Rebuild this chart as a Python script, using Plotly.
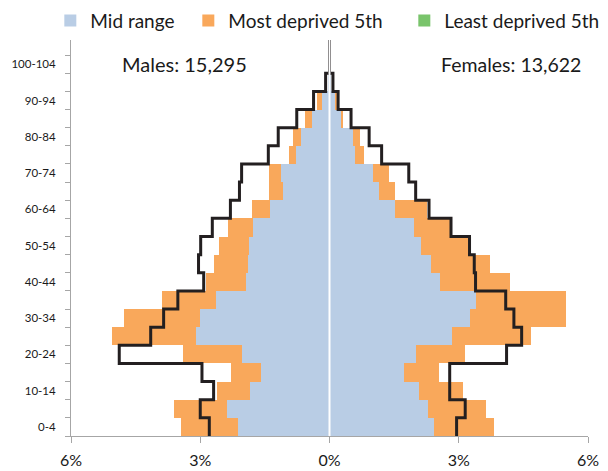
import plotly.graph_objects as go

age_groups = ['0-4', '5-9', '10-14', '15-19', '20-24', '25-29', '30-34', '35-39',
              '40-44', '45-49', '50-54', '55-59', '60-64', '65-69', '70-74', '75-79',
              '80-84', '85-89', '90-94', '95-99', '100-104', '105-109']

# percentages of population (males plotted to the left)
male_mid = [2.12, 2.39, 1.85, 1.58, 2.04, 3.09, 3.00, 2.64, 1.94, 1.90, 1.88, 1.77,
            1.38, 1.07, 1.12, 0.78, 0.66, 0.40, 0.17, 0.04, 0.01, 0.0]
male_most = [3.45, 3.60, 2.62, 2.28, 3.40, 5.05, 4.77, 3.88, 2.87, 2.69, 2.56, 2.36,
             1.80, 1.40, 1.40, 0.94, 0.85, 0.57, 0.29, 0.04, 0.0, 0.0]
male_least = [2.79, 3.00, 2.69, 2.96, 4.88, 4.15, 3.85, 3.52, 2.92, 3.04, 2.99, 2.72,
              2.30, 2.09, 2.04, 1.42, 1.19, 0.76, 0.37, 0.09, 0.0, 0.0]

female_mid = [2.42, 2.29, 2.08, 1.73, 2.00, 2.85, 3.26, 3.39, 2.56, 2.35, 2.13, 1.96,
              1.53, 1.16, 1.02, 0.60, 0.55, 0.26, 0.12, 0.04, 0.01, 0.0]
female_most = [3.81, 3.64, 3.11, 2.54, 3.14, 4.67, 5.48, 5.48, 4.19, 3.72, 3.22, 2.79,
               2.27, 1.53, 1.37, 0.80, 0.70, 0.31, 0.18, 0.04, 0.0, 0.0]
female_least = [2.95, 3.15, 2.79, 2.79, 4.11, 4.46, 4.28, 4.09, 3.39, 3.36, 3.25, 2.82,
                2.31, 2.00, 1.84, 1.21, 0.92, 0.50, 0.20, 0.08, 0.0, 0.0]

x_tick_vals = [-6, -3, 0, 3, 6]
x_tick_text = ['6%', '3%', '0%', '3%', '6%']
males_label = 'Males: 15,295'
females_label = 'Females: 13,622'

BLUE = '#B9CDE5'
ORANGE = '#F9A85B'
GREEN = '#79C46B'
BLACK = '#231F20'
AXIS = '#A6A6A6'
TEXT = '#1a1a1a'
FONT = 'Lato'

pos = list(range(len(age_groups)))


def step_path(values, sign):
    xs, ys = [], []
    for i, v in enumerate(values):
        xs += [sign * v, sign * v]
        ys += [i - 0.5, i + 0.5]
    return xs, ys


fig = go.Figure()

# Most deprived (behind)
fig.add_trace(go.Bar(x=[-v for v in male_most], y=pos, orientation='h', width=1,
                     marker=dict(color=ORANGE, line=dict(width=0)),
                     name='Most deprived 5th', legendrank=2, legendwidth=171,
                     showlegend=True))
fig.add_trace(go.Bar(x=female_most, y=pos, orientation='h', width=1,
                     marker=dict(color=ORANGE, line=dict(width=0)),
                     name='Most deprived 5th', showlegend=False))
# Mid range (front)
fig.add_trace(go.Bar(x=[-v for v in male_mid], y=pos, orientation='h', width=1,
                     marker=dict(color=BLUE, line=dict(width=0)),
                     name='Mid range', legendrank=1, legendwidth=93, showlegend=True))
fig.add_trace(go.Bar(x=female_mid, y=pos, orientation='h', width=1,
                     marker=dict(color=BLUE, line=dict(width=0)),
                     name='Mid range', showlegend=False))
# Least deprived outline
mx, my = step_path(male_least, -1)
fx, fy = step_path(female_least, 1)
fig.add_trace(go.Scatter(x=mx, y=my, mode='lines', line=dict(color=BLACK, width=3),
                         showlegend=False, name='Least deprived 5th'))
fig.add_trace(go.Scatter(x=fx, y=fy, mode='lines', line=dict(color=BLACK, width=3),
                         showlegend=False, name='Least deprived 5th'))
# legend entry for least deprived
fig.add_trace(go.Bar(x=[None], y=[None], orientation='h',
                     marker=dict(color=GREEN, line=dict(width=0)),
                     name='Least deprived 5th', legendrank=3, legendwidth=150,
                     showlegend=True))

# page has an 8px body margin, so the figure is sized to end at the window edge
fig.update_layout(
    width=600, height=463,
    margin=dict(l=63, r=20, t=29, b=35, autoexpand=False),
    paper_bgcolor='white', plot_bgcolor='white',
    barmode='overlay', bargap=0,
    font=dict(family=FONT, color=TEXT),
    legend=dict(orientation='h', x=-0.04, y=1.041, xanchor='left', yanchor='middle',
                font=dict(size=19, family=FONT, color=TEXT),
                itemclick=False, tracegroupgap=0),
    xaxis=dict(range=[-6, 6], tickmode='array', tickvals=x_tick_vals, ticktext=x_tick_text,
               showgrid=False, zeroline=False,
               showline=True, linecolor=AXIS, linewidth=1,
               ticks='outside', ticklen=6, tickcolor=AXIS, ticklabelstandoff=4,
               tickfont=dict(size=16, family=FONT, color=TEXT),
               layer='above traces', automargin=False, fixedrange=True),
    yaxis=dict(range=[-0.5, len(age_groups) - 0.5], tickmode='array',
               tickvals=pos[0:21:2], ticktext=age_groups[0:21:2],
               showgrid=False, zeroline=False,
               showline=True, linecolor=AXIS, linewidth=1,
               ticks='', ticklabelstandoff=12,
               tickfont=dict(size=11.5, family=FONT, color=TEXT),
               minor=dict(tickmode='array', tickvals=[i - 0.5 for i in range(len(age_groups) + 1)],
                          ticks='outside', ticklen=5, tickcolor=AXIS, showgrid=False),
               automargin=False, fixedrange=True),
    shapes=[dict(type='line', xref='x', yref='paper', x0=0, x1=0, y0=0, y1=1,
                 line=dict(color='white', width=2), layer='above')],
    annotations=[
        dict(text=males_label, xref='paper', yref='paper', x=0.095, y=0.932,
             xanchor='left', yanchor='middle', showarrow=False,
             font=dict(size=20, family=FONT, color=TEXT)),
        dict(text=females_label, xref='paper', yref='paper', x=0.99, y=0.932,
             xanchor='right', yanchor='middle', showarrow=False,
             font=dict(size=19.5, family=FONT, color=TEXT)),
    ],
)

fig.write_html('out.html')
